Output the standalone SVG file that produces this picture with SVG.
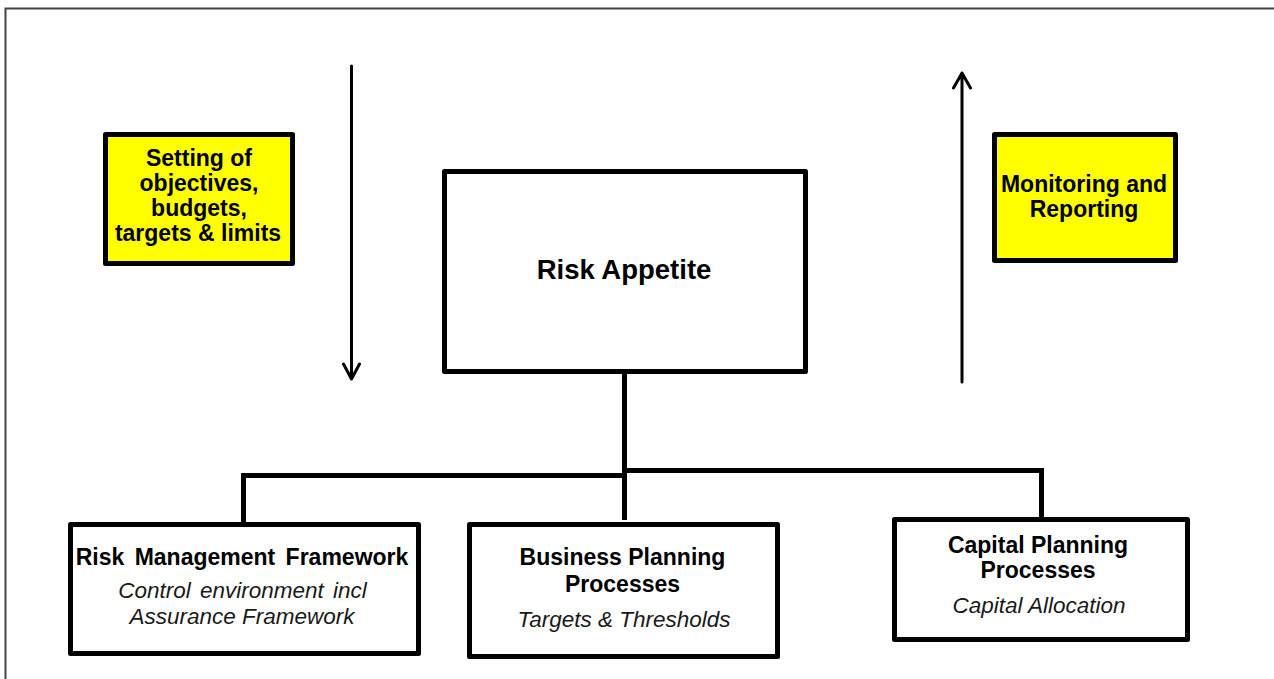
<svg xmlns="http://www.w3.org/2000/svg" width="1274" height="679" viewBox="0 0 1274 679">
<style>
.box{fill:#fff;stroke:#000;stroke-width:5;stroke-linejoin:round}
.ybox{fill:#ffff00;stroke:#000;stroke-width:5;stroke-linejoin:round}
.b{font-family:"Liberation Sans",Arial,sans-serif;font-weight:bold;font-size:23px;fill:#000;text-anchor:middle}
.i{font-family:"Liberation Sans",Arial,sans-serif;font-style:italic;font-size:22.5px;fill:#1a1a1a;text-anchor:middle}
.con{fill:none;stroke:#000;stroke-width:5}
.arr{fill:none;stroke:#000;stroke-width:3;stroke-linecap:round;stroke-linejoin:round}
</style>
<rect x="0" y="0" width="1274" height="679" fill="#fff"/>
<rect x="5.5" y="8.5" width="1300" height="700" fill="none" stroke="#444" stroke-width="2"/>
<g id="connectors">
<path class="con" d="M624.5 374V520"/>
<path class="con" d="M624.5 475.5H243.5V522"/>
<path class="con" d="M624.5 470.5H1041.5V517"/>
<path class="arr" d="M351.5 66V379M343.5 364L351.5 379L359.5 364"/>
<path class="arr" d="M962 382V73M953.5 88L962 73L970.5 88"/>
</g>
<g id="setting">
<rect class="ybox" x="105.5" y="134.5" width="187" height="129"/>
<text class="b" x="199" y="166">Setting of</text>
<text class="b" x="199" y="191">objectives,</text>
<text class="b" x="199" y="216">budgets,</text>
<text class="b" x="198" y="241">targets &amp; limits</text>
</g>
<g id="monitoring">
<rect class="ybox" x="994.5" y="134.5" width="181" height="126"/>
<text class="b" x="1084" y="192">Monitoring and</text>
<text class="b" x="1084" y="217">Reporting</text>
</g>
<g id="risk-appetite">
<rect class="box" x="444.5" y="171.5" width="361" height="200"/>
<text class="b" x="624" y="279" style="font-size:27.5px">Risk Appetite</text>
</g>
<g id="rmf">
<rect class="box" x="70.5" y="524.5" width="348" height="129"/>
<text class="b" x="242" y="565" word-spacing="4">Risk Management Framework</text>
<text class="i" x="242.5" y="598" word-spacing="3">Control environment incl</text>
<text class="i" x="242" y="624">Assurance Framework</text>
</g>
<g id="bpp">
<rect class="box" x="469.5" y="524.5" width="308" height="132"/>
<text class="b" x="622.5" y="565">Business Planning</text>
<text class="b" x="622.5" y="592">Processes</text>
<text class="i" x="624" y="627">Targets &amp; Thresholds</text>
</g>
<g id="cpp">
<rect class="box" x="894.5" y="519.5" width="293" height="120"/>
<text class="b" x="1038" y="553">Capital Planning</text>
<text class="b" x="1038" y="578">Processes</text>
<text class="i" x="1039" y="613">Capital Allocation</text>
</g>
</svg>
